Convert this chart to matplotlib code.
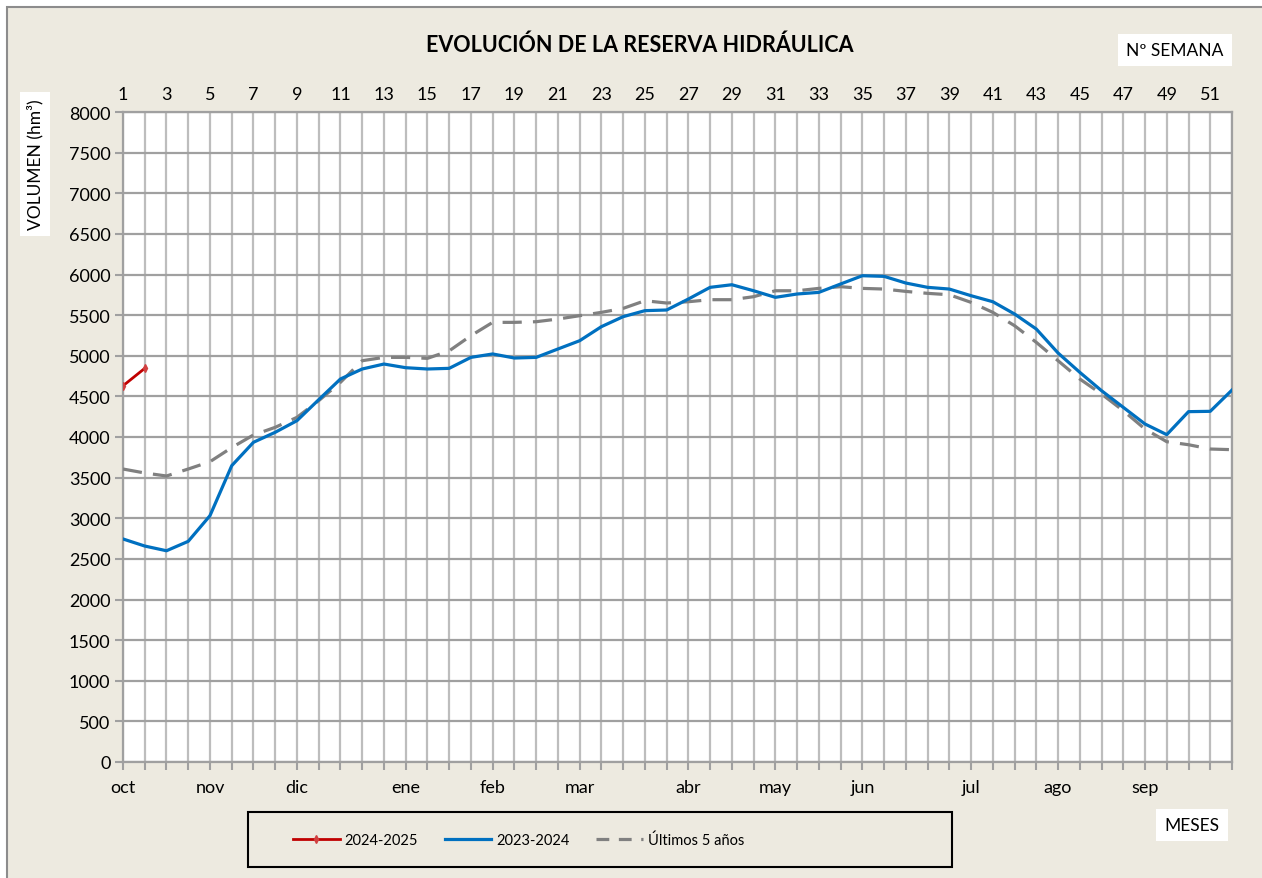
import numpy as np
import matplotlib
matplotlib.use('Agg')
import matplotlib.pyplot as plt
from matplotlib.patches import Rectangle
from matplotlib.lines import Line2D

plt.rcParams['font.family'] = ['Lato', 'DejaVu Sans']

# weekly volumes (hm3), week 1 = first week of October
weeks = np.arange(1, 53)
res_2024_25 = [4630, 4845]
res_2023_24 = [2745, 2658, 2600, 2716, 3032, 3647, 3935, 4058, 4201, 4459,
               4714, 4837, 4898, 4853, 4837, 4845, 4980, 5022, 4972, 4980,
               5083, 5185, 5358, 5481, 5555, 5563, 5698, 5842, 5874, 5800,
               5719, 5760, 5780, 5883, 5985, 5977, 5895, 5842, 5821, 5739,
               5665, 5514, 5329, 5034, 4796, 4570, 4365, 4160, 4029, 4312,
               4316, 4578]
res_last5 = [3606, 3557, 3520, 3606, 3696, 3870, 4025, 4119, 4242, 4447,
             4673, 4939, 4980, 4980, 4968, 5060, 5247, 5411, 5411, 5419,
             5452, 5493, 5534, 5583, 5677, 5649, 5665, 5690, 5690, 5727,
             5800, 5800, 5829, 5850, 5829, 5821, 5792, 5768, 5751, 5657,
             5534, 5370, 5165, 4939, 4714, 4529, 4324, 4098, 3942, 3905,
             3852, 3844]

month_labels = ['oct', 'nov', 'dic', 'ene', 'feb', 'mar', 'abr', 'may',
                'jun', 'jul', 'ago', 'sep']
month_weeks = [1, 5, 9, 14, 18, 22, 27, 31, 35, 40, 44, 48]

bg = '#EDEAE0'
W, H = 1262, 879
fig = plt.figure(figsize=(W / 100, H / 100), dpi=100)
fig.patch.set_facecolor('white')
# beige chart area, grey frame only visible on top/left
fig.patches.append(Rectangle((7 / W, -1), 2, 2 - 8 / H, transform=fig.transFigure,
                             facecolor=bg, edgecolor='#8c8c8c', lw=1.5, zorder=0))
# legend box
fig.patches.append(Rectangle((248 / W, 1 - 868 / H), (952 - 248) / W, 55 / H,
                             transform=fig.transFigure, facecolor=bg,
                             edgecolor='black', lw=1.5, zorder=1))

ax = fig.add_axes([123 / W, 1 - 763 / H, (1232 - 123) / W, (763 - 113) / H])
ax.set_zorder(2)
ax.set_facecolor('white')

ax.plot(weeks[:len(res_2024_25)], res_2024_25, color='#C00000', lw=2,
        marker='d', ms=4, mfc='#D04040', mec='#D04040', zorder=5)
ax.plot(weeks, res_2023_24, color='#0070C0', lw=2.3, zorder=4)
ax.plot(weeks, res_last5, color='#808080', lw=2.3, ls=(0, (6, 3.5)), zorder=3)

ax.set_xlim(1, 52)
ax.set_ylim(0, 8000)
ax.set_yticks(np.arange(0, 8001, 500))
for w in weeks:
    ax.axvline(w, color='#BDBDBD', lw=1.6, zorder=1)
for v in np.arange(0, 8001, 500):
    ax.axhline(v, color='#A0A0A0', lw=1.6, zorder=1)

# bottom: month labels at their weeks, week ticks without labels
ax.set_xticks(weeks)
ax.set_xticklabels([month_labels[month_weeks.index(w)] if w in month_weeks else ''
                    for w in weeks], fontsize=13)
ax.tick_params(axis='x', length=6, width=1.5, color='#A0A0A0', pad=6)
ax.tick_params(axis='y', length=6, width=1.5, color='#A0A0A0', labelsize=13, pad=3)
for s in ['left', 'bottom', 'top', 'right']:
    ax.spines[s].set_color('#A0A0A0')
    ax.spines[s].set_linewidth(1.6)

top = ax.secondary_xaxis('top')
top.set_xticks(np.arange(1, 52, 2))
top.set_xticklabels([str(w) for w in range(1, 52, 2)], fontsize=13)
top.tick_params(length=0, pad=7)
top.spines['top'].set_visible(False)

fig.text(640 / W, 1 - 45 / H, 'EVOLUCIÓN DE LA RESERVA HIDRÁULICA', ha='center',
         va='center', fontsize=15.5, fontweight='bold')
fig.text(1175 / W, 1 - 51 / H, 'Nº SEMANA', ha='center', va='center', fontsize=12.5,
         bbox=dict(facecolor='white', edgecolor='none', pad=6))
fig.text(35 / W, 1 - 165 / H, 'VOLUMEN (hm³)', ha='center', va='center',
         rotation=90, fontsize=12.5, bbox=dict(facecolor='white', edgecolor='none', pad=5))
fig.text(1192 / W, 1 - 826 / H, 'MESES', ha='center', va='center', fontsize=12.5,
         bbox=dict(facecolor='white', edgecolor='none', pad=6))

handles = [Line2D([], [], color='#C00000', lw=2, marker='d', ms=4, mfc='#D04040', mec='#D04040'),
           Line2D([], [], color='#0070C0', lw=2.3),
           Line2D([], [], color='#808080', lw=2.3, ls=(0, (4, 3)))]
leg = fig.legend(handles, ['2024-2025', '2023-2024', 'Últimos 5 años'],
                 loc='center left', bbox_to_anchor=(293 / W, 1 - 841 / H),
                 ncol=3, fontsize=10.5, frameon=False, borderpad=0,
                 borderaxespad=0, handlelength=3.2, handletextpad=0.35,
                 columnspacing=1.8)

fig.savefig('out.png', dpi=100, facecolor=fig.get_facecolor())
